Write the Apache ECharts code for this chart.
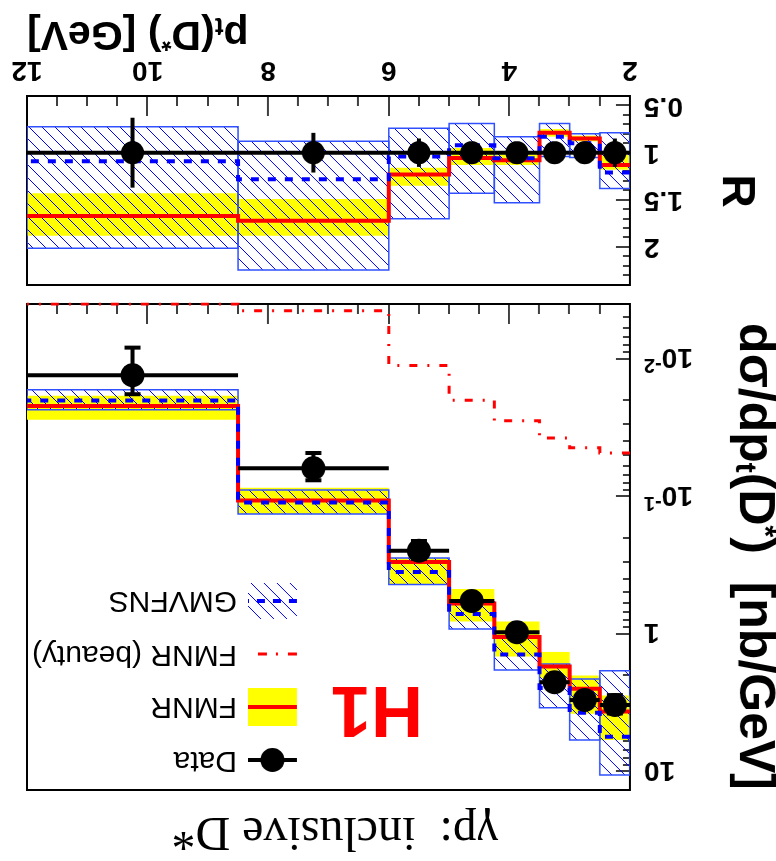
<!DOCTYPE html>
<html><head><meta charset="utf-8">
<script src="https://cdn.jsdelivr.net/npm/echarts@6/dist/echarts.min.js"></script>
<style>html,body{margin:0;padding:0;background:#fff;} #c{width:776px;height:861px;transform:rotate(180deg);}</style>
</head><body><div id="c"></div>
<script>
// ---- data ----
const binEdges = [2, 2.5, 3, 3.5, 4.25, 5, 6, 8.5, 12];
// cross-section panel [nb/GeV]
const dataVal   = [3.28, 3.02, 2.24, 0.972, 0.575, 0.248, 0.0624, 0.0132];
const dataErr   = [0.5, 0.24, 0.16, 0.068, 0.046, 0.037, 0.014, 0.0049];
const fmnr      = [3.65, 2.5, 1.72, 1.05, 0.6, 0.3, 0.107, 0.022];
const fmnrLo    = [2.8, 2.0, 1.35, 0.81, 0.47, 0.28, 0.0867, 0.0186];
const fmnrHi    = [5.9, 3.8, 2.1, 1.46, 0.81, 0.44, 0.134, 0.0278];
const beauty    = [0.0483, 0.0443, 0.0376, 0.0282, 0.020, 0.0112, 0.00448, 0.004];
const gmvfns    = [5.58, 3.73, 2.47, 1.41, 0.716, 0.354, 0.111, 0.0201];
const gmvfnsLo  = [1.85, 2.12, 1.65, 1.07, 0.582, 0.28, 0.0897, 0.0168];
const gmvfnsHi  = [10.6, 5.9, 3.44, 1.83, 0.92, 0.436, 0.134, 0.0235];
// ratio panel R
const rData     = [1, 1, 1, 1, 1, 1, 1, 1];
const rDataErr  = [0.15, 0.08, 0.07, 0.07, 0.08, 0.15, 0.21, 0.37];
const rFmnr     = [1.13, 0.85, 0.79, 1.08, 1.055, 1.23, 1.72, 1.67];
const rFmnrLo   = [1.02, 0.82, 0.75, 1.02, 0.95, 1.16, 1.49, 1.43];
const rFmnrHi   = [1.18, 0.88, 0.83, 1.13, 1.13, 1.35, 1.88, 1.88];
const rGmvfns   = [1.21, 0.90, 0.83, 1.06, 0.92, 1.04, 1.28, 1.09];
const rGmvfnsLo = [0.79, 0.80, 0.69, 0.83, 0.69, 0.74, 0.88, 0.725];
const rGmvfnsHi = [1.38, 1.05, 1.04, 1.53, 1.43, 1.70, 2.24, 2.01];
// ticks
const logMajor = [0.01, 0.1, 1, 10];
const logMinor = [0.005,0.006,0.007,0.008,0.009,0.02,0.03,0.04,0.05,0.06,0.07,0.08,0.09,
                  0.2,0.3,0.4,0.5,0.6,0.7,0.8,0.9,2,3,4,5,6,7,8,9];
const ratioMajor = [0.5, 1, 1.5, 2];
const ratioMinor = [0.4,0.5,0.6,0.7,0.8,0.9,1.0,1.1,1.2,1.3,1.4,1.5,1.6,1.7,1.8,1.9,2.0,2.1,2.2,2.3,2.4];

// ---- helpers ----
const SANS = 'Liberation Sans';
const hatch = document.createElement('canvas');
hatch.width = 13; hatch.height = 13;
(function(){const c = hatch.getContext('2d'); c.strokeStyle = '#0000ff'; c.lineWidth = 1;
  [-13,0,13].forEach(k=>{c.beginPath(); c.moveTo(k-1,-1); c.lineTo(k+14,14); c.stroke();});})();
const hatchPattern = {image: hatch, repeat: 'repeat'};

function stepPts(vals){ const p=[]; vals.forEach((v,i)=>{p.push([binEdges[i],v]);p.push([binEdges[i+1],v]);}); return p; }
function centerPts(vals){ return vals.map((v,i)=>[(binEdges[i]+binEdges[i+1])/2, v]); }

function band(xi, yi, lo, hi, kind, z){
  return {type:'custom', xAxisIndex:xi, yAxisIndex:yi, z, clip:true, silent:true,
    data: lo.map((l,i)=>[binEdges[i], binEdges[i+1], l, hi[i]]),
    encode:{x:[0,1], y:[2,3]},
    renderItem:(params, api)=>{
      const a = api.coord([api.value(0), api.value(3)]);
      const b = api.coord([api.value(1), api.value(2)]);
      const style = kind==='hatch' ? {fill:hatchPattern, stroke:'#3050ff', lineWidth:1.5} : {fill:'#ffff00'};
      return {type:'rect', shape:{x:a[0], y:a[1], width:b[0]-a[0], height:b[1]-a[1]}, style};
    }};
}
function errBars(xi, yi, vals, errs, cap, z){
  return {type:'custom', xAxisIndex:xi, yAxisIndex:yi, z, clip:true, silent:true,
    data: vals.map((v,i)=>[binEdges[i], binEdges[i+1], v, v-errs[i], v+errs[i]]),
    encode:{x:[0,1], y:[3,4]},
    renderItem:(params, api)=>{
      const x0=api.value(0), x1=api.value(1), v=api.value(2), lo=api.value(3), hi=api.value(4);
      const pL=api.coord([x0,v]), pR=api.coord([x1,v]);
      const xc=(x0+x1)/2;
      const pLo=api.coord([xc,lo]), pHi=api.coord([xc,hi]);
      const st={stroke:'#000', lineWidth:4};
      const ch=[{type:'line', shape:{x1:pL[0],y1:pL[1],x2:pR[0],y2:pR[1]}, style:st},
                {type:'line', shape:{x1:pLo[0],y1:pLo[1],x2:pHi[0],y2:pHi[1]}, style:st}];
      if (cap){
        ch.push({type:'line', shape:{x1:pLo[0]-cap,y1:pLo[1],x2:pLo[0]+cap,y2:pLo[1]}, style:st});
        ch.push({type:'line', shape:{x1:pHi[0]-cap,y1:pHi[1],x2:pHi[0]+cap,y2:pHi[1]}, style:st});
      }
      return {type:'group', children:ch};
    }};
}
function stepLine(xi, yi, vals, color, width, dash, z){
  return {type:'line', xAxisIndex:xi, yAxisIndex:yi, z, data:stepPts(vals), showSymbol:false, symbol:'none',
    silent:true, clip:true, lineStyle:{color, width, type:dash||'solid', cap:'butt', join:'miter'}};
}

const xAxisBase = (gi, labels)=>({gridIndex:gi, type:'value', min:2, max:12, interval:2, position:'bottom',
  axisLine:{onZero:false, lineStyle:{color:'#000', width:2}},
  axisTick:{inside:true, length:20, lineStyle:{color:'#000', width:1.5}},
  minorTick:{show:true, splitNumber:4, length:10, lineStyle:{color:'#000', width:1.5}},
  splitLine:{show:false}, minorSplitLine:{show:false},
  axisLabel:{show:labels, margin:12, color:'#000', fontFamily:SANS, fontWeight:'bold', fontSize:28}});

const logLabelRich = {
  b:{fontSize:28, fontWeight:'bold', fontFamily:SANS, color:'#000', lineHeight:32, verticalAlign:'bottom'},
  e:{fontSize:20, fontWeight:'bold', fontFamily:SANS, color:'#000', lineHeight:20, verticalAlign:'top'}
};

const option = {
  animation:false,
  backgroundColor:'#fff',
  grid:[
    {left:146, top:71, width:603, height:486, show:true, borderColor:'#000', borderWidth:2, backgroundColor:'transparent'},
    {left:146, top:576, width:603, height:189, show:true, borderColor:'#000', borderWidth:2, backgroundColor:'transparent'}
  ],
  xAxis:[xAxisBase(0,false), xAxisBase(1,true)],
  yAxis:[
    {gridIndex:0, type:'log', logBase:10, min:0.004, max:13.6, position:'left',
      axisLine:{show:true, onZero:false, lineStyle:{color:'#000', width:2}},
      axisTick:{inside:true, length:14, customValues:logMajor, lineStyle:{color:'#000', width:1.5}},
      minorTick:{show:false}, splitLine:{show:false},
      axisLabel:{customValues:logMajor, margin:14, rich:logLabelRich,
        formatter:(v)=>{const e=Math.round(Math.log10(v)); if(e===0) return '{b|1}'; if(e===1) return '{b|10}'; return '{b|10}{e|'+e+'}';}}},
    {gridIndex:0, type:'log', logBase:10, min:0.004, max:13.6, position:'left',
      axisLine:{show:false, onZero:false}, axisLabel:{show:false}, splitLine:{show:false},
      axisTick:{inside:true, length:7, customValues:logMinor, lineStyle:{color:'#000', width:1.5}}},
    {gridIndex:1, type:'value', min:0.4, max:2.4, position:'left',
      axisLine:{show:true, onZero:false, lineStyle:{color:'#000', width:2}},
      axisTick:{inside:true, length:14, customValues:ratioMajor, lineStyle:{color:'#000', width:1.5}},
      splitLine:{show:false},
      axisLabel:{customValues:ratioMajor, margin:14, color:'#000', fontFamily:SANS, fontWeight:'bold', fontSize:28}},
    {gridIndex:1, type:'value', min:0.4, max:2.4, position:'left',
      axisLine:{show:false, onZero:false}, axisLabel:{show:false}, splitLine:{show:false},
      axisTick:{inside:true, length:7, customValues:ratioMinor, lineStyle:{color:'#000', width:1.5}}}
  ],
  series:[
    band(0,0,fmnrLo,fmnrHi,'yellow',1),
    band(0,0,gmvfnsLo,gmvfnsHi,'hatch',2),
    stepLine(0,0,fmnr,'#ff0000',4,null,3),
    stepLine(0,0,beauty,'#ff0000',3,[8,10,2,10],3),
    stepLine(0,0,gmvfns,'#0000ff',4,[8,9],4),
    errBars(0,0,dataVal,dataErr,8,5),
    {type:'scatter', xAxisIndex:0, yAxisIndex:0, z:6, silent:true, data:centerPts(dataVal), symbol:'circle', symbolSize:24, itemStyle:{color:'#000', opacity:1}},

    band(1,2,rFmnrLo,rFmnrHi,'yellow',1),
    band(1,2,rGmvfnsLo,rGmvfnsHi,'hatch',2),
    stepLine(1,2,rFmnr,'#ff0000',4,null,3),
    stepLine(1,2,rGmvfns,'#0000ff',4,[8,9],4),
    errBars(1,2,rData,rDataErr,0,5),
    {type:'scatter', xAxisIndex:1, yAxisIndex:2, z:6, silent:true, data:centerPts(rData), symbol:'circle', symbolSize:23, itemStyle:{color:'#000', opacity:1}}
  ],
  graphic:[
    // legend
    {type:'line', shape:{x1:479,y1:101,x2:528,y2:101}, style:{stroke:'#000', lineWidth:4}},
    {type:'circle', shape:{cx:503.5, cy:101, r:12}, style:{fill:'#000'}},
    {type:'text', x:539, y:101, style:{text:'Data', font:'30px "Liberation Sans"', fill:'#000', align:'left', verticalAlign:'middle', textAlign:'left', textVerticalAlign:'middle'}},
    {type:'rect', shape:{x:479, y:135, width:49, height:38}, style:{fill:'#ffff00'}},
    {type:'line', shape:{x1:479,y1:154,x2:528,y2:154}, style:{stroke:'#ff0000', lineWidth:4}},
    {type:'text', x:539, y:155, style:{text:'FMNR', font:'30px "Liberation Sans"', fill:'#000', align:'left', verticalAlign:'middle', textAlign:'left', textVerticalAlign:'middle'}},
    {type:'line', shape:{x1:479,y1:207,x2:528,y2:207}, style:{stroke:'#ff0000', lineWidth:3, lineDash:[9,10,2,9]}},
    {type:'text', x:539, y:207, style:{text:'FMNR (beauty)', font:'30px "Liberation Sans"', fill:'#000', align:'left', verticalAlign:'middle', textAlign:'left', textVerticalAlign:'middle'}},
    {type:'rect', shape:{x:479, y:242, width:49, height:36}, style:{fill:hatchPattern}},
    {type:'line', shape:{x1:479,y1:260,x2:528,y2:260}, style:{stroke:'#0000ff', lineWidth:4, lineDash:[8,8]}},
    {type:'text', x:539, y:261, style:{text:'GMVFNS', font:'30px "Liberation Sans"', fill:'#000', align:'left', verticalAlign:'middle', textAlign:'left', textVerticalAlign:'middle'}},
    // H1
    {type:'text', x:353, y:154, style:{text:'H1', font:'bold 72px "Liberation Sans"', fill:'#ff0000', align:'left', verticalAlign:'middle', textAlign:'left', textVerticalAlign:'middle'}},
    // title
    {type:'text', x:278, y:30, style:{text:'γp:  inclusive D*', font:'48px "Liberation Serif"', fill:'#000', align:'left', verticalAlign:'middle', textAlign:'left', textVerticalAlign:'middle'}},
    // y title
    {type:'text', x:22, y:71, rotation:Math.PI/2, style:{text:'{a|dσ/dp}{s|t}{a|(D}{u|*}{a|)  [nb/GeV]}', align:'right', verticalAlign:'middle', textAlign:'right', textVerticalAlign:'middle',
      rich:{a:{fontSize:50, fontWeight:'bold', fontFamily:SANS, fill:'#000', lineHeight:50, verticalAlign:'top'},
            s:{fontSize:30, fontWeight:'bold', fontFamily:SANS, fill:'#000', lineHeight:30, verticalAlign:'bottom'},
            u:{fontSize:30, fontWeight:'bold', fontFamily:SANS, fill:'#000', lineHeight:30, verticalAlign:'top'}}}},
    // R
    {type:'text', x:40, y:670, rotation:Math.PI/2, style:{text:'R', font:'bold 46px "Liberation Sans"', fill:'#000', align:'center', verticalAlign:'middle', textAlign:'center', textVerticalAlign:'middle'}},
    // x title
    {type:'text', x:749, y:828, style:{text:'{a|p}{s|t}{a|(D}{u|*}{a|) [GeV]}', align:'right', verticalAlign:'middle', textAlign:'right', textVerticalAlign:'middle',
      rich:{a:{fontSize:41, fontWeight:'bold', fontFamily:SANS, fill:'#000', lineHeight:41, verticalAlign:'top'},
            s:{fontSize:26, fontWeight:'bold', fontFamily:SANS, fill:'#000', lineHeight:26, verticalAlign:'bottom'},
            u:{fontSize:26, fontWeight:'bold', fontFamily:SANS, fill:'#000', lineHeight:26, verticalAlign:'top'}}}}
  ]
};
const chart = echarts.init(document.getElementById('c'), null, {renderer:'canvas'});
chart.setOption(option);
</script></body></html>
